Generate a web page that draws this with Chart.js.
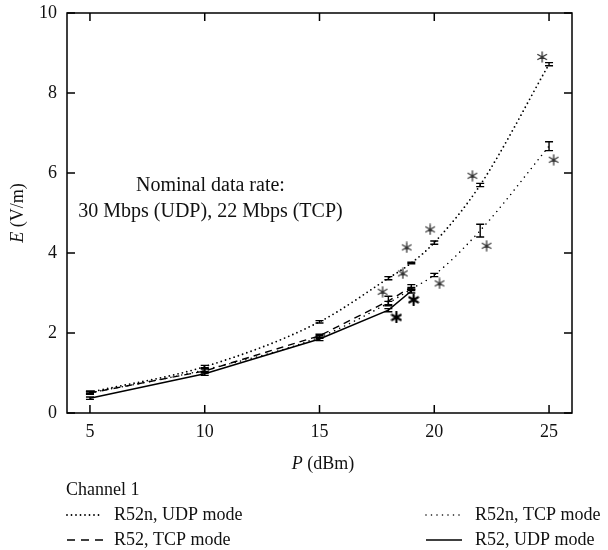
<!DOCTYPE html>
<html>
<head>
<meta charset="utf-8">
<script src="https://cdn.jsdelivr.net/npm/chart.js@4.4.1/dist/chart.umd.min.js"></script>
<style>
  html, body { margin: 0; padding: 0; background: #fff; }
</style>
</head>
<body>
<canvas id="myChart" width="608" height="550"></canvas>
<script>
// values
const power = [5, 10, 15, 18, 19, 20, 22, 25];
const powerR52 = [5, 10, 15, 18, 19];

const r52nUdp = [0.52, 1.16, 2.28, 3.37, 3.75, 4.26, 5.70, 8.72];
const r52nUdpErr = [0.03, 0.03, 0.03, 0.04, 0.02, 0.04, 0.04, 0.04];
const r52nTcp = [0.50, 1.08, 1.90, 2.75, 3.10, 3.45, 4.56, 6.67];
const r52nTcpErr = [0.03, 0.04, 0.03, 0.04, 0.04, 0.04, 0.16, 0.11];
const r52Tcp = [0.50, 1.05, 1.93, 2.80, 3.15];
const r52TcpErr = [0.03, 0.05, 0.04, 0.12, 0.06];
const r52Udp = [0.37, 0.98, 1.85, 2.57, 3.05];
const r52UdpErr = [0.03, 0.04, 0.04, 0.04, 0.05];

// asterisk markers
const starX = [24.7, 21.66, 19.82, 18.8, 18.63, 17.75, 25.2, 22.28, 20.23];
const starY = [8.9, 5.93, 4.59, 4.14, 3.49, 3.03, 6.33, 4.18, 3.24];
const boldStarX = [18.35, 19.1];
const boldStarY = [2.39, 2.83];

const xTicks = [5, 10, 15, 20, 25];
const yTicks = [0, 2, 4, 6, 8, 10];

const noteLines = ['Nominal data rate:', '30 Mbps (UDP), 22 Mbps (TCP)'];
const noteX = 10.25;
const noteY = [5.68, 5.02];

const FONT = '"Liberation Serif", "DejaVu Serif", serif';

function makeStar(size, width, color) {
  const c = document.createElement('canvas');
  c.width = size; c.height = size;
  const g = c.getContext('2d');
  const r = size / 2 - 1;
  g.strokeStyle = color;
  g.lineWidth = width;
  g.lineCap = 'round';
  g.beginPath();
  for (let k = 0; k < 3; k++) {
    const a = Math.PI / 2 + k * Math.PI / 3;
    g.moveTo(size / 2 + r * Math.cos(a), size / 2 + r * Math.sin(a));
    g.lineTo(size / 2 - r * Math.cos(a), size / 2 - r * Math.sin(a));
  }
  g.stroke();
  return c;
}
const starImg = makeStar(12, 1.3, '#333');
const boldStarImg = makeStar(12, 2.2, '#000');

function pts(xs, ys) {
  return xs.map((v, i) => ({x: v, y: ys[i]}));
}

function richText(ctx, parts, x, y) {
  // parts: [[text, italic]], centred on x
  let total = 0;
  parts.forEach(p => {
    ctx.font = (p[1] ? 'italic ' : '') + '18px ' + FONT;
    total += ctx.measureText(p[0]).width;
  });
  let cx = x - total / 2;
  ctx.textAlign = 'left';
  parts.forEach(p => {
    ctx.font = (p[1] ? 'italic ' : '') + '18px ' + FONT;
    ctx.fillText(p[0], cx, y);
    cx += ctx.measureText(p[0]).width;
  });
}

const decorations = {
  id: 'decorations',
  afterDatasetsDraw(chart) {
    const {ctx, chartArea: a} = chart;
    const x = chart.scales.x, y = chart.scales.y;
    ctx.save();
    ctx.setLineDash([]);
    ctx.strokeStyle = '#000';
    ctx.fillStyle = '#111';

    // error bars
    chart.data.datasets.forEach(ds => {
      if (!ds.errors) return;
      ds.data.forEach((p, j) => {
        const px = x.getPixelForValue(p.x);
        const t = y.getPixelForValue(p.y + ds.errors[j]);
        const b = y.getPixelForValue(p.y - ds.errors[j]);
        ctx.lineWidth = 1.4;
        ctx.beginPath();
        ctx.moveTo(px, t); ctx.lineTo(px, b);
        ctx.moveTo(px - 4, t); ctx.lineTo(px + 4, t);
        ctx.moveTo(px - 4, b); ctx.lineTo(px + 4, b);
        ctx.stroke();
      });
    });

    // frame and inward ticks
    ctx.lineWidth = 1.5;
    ctx.strokeRect(a.left, a.top, a.right - a.left, a.bottom - a.top);
    ctx.beginPath();
    xTicks.forEach(v => {
      const px = x.getPixelForValue(v);
      ctx.moveTo(px, a.bottom); ctx.lineTo(px, a.bottom - 8);
      ctx.moveTo(px, a.top); ctx.lineTo(px, a.top + 8);
    });
    yTicks.forEach(v => {
      const py = y.getPixelForValue(v);
      ctx.moveTo(a.left, py); ctx.lineTo(a.left + 8, py);
      ctx.moveTo(a.right, py); ctx.lineTo(a.right - 8, py);
    });
    ctx.stroke();

    // annotation
    ctx.font = '20px ' + FONT;
    ctx.textAlign = 'center';
    ctx.textBaseline = 'middle';
    noteLines.forEach((s, i) => {
      ctx.fillText(s, x.getPixelForValue(noteX), y.getPixelForValue(noteY[i]));
    });

    // axis titles
    richText(ctx, [['P', true], [' (dBm)', false]], 323, 464);
    ctx.save();
    ctx.translate(18, (a.top + a.bottom) / 2);
    ctx.rotate(-Math.PI / 2);
    richText(ctx, [['E', true], [' (V/m)', false]], 0, 0);
    ctx.restore();

    // legend
    ctx.font = '18px ' + FONT;
    ctx.textAlign = 'left';
    ctx.fillText('Channel 1', 66, 490);
    const cols = [66, 425];
    const rows = [515, 540];
    chart.data.datasets.forEach(ds => {
      if (ds.legendSlot === undefined) return;
      const cx = cols[ds.legendSlot % 2];
      const cy = rows[Math.floor(ds.legendSlot / 2)];
      ctx.save();
      ctx.lineWidth = ds.borderWidth;
      ctx.lineCap = ds.borderCapStyle || 'butt';
      ctx.setLineDash(ds.legendDash || ds.borderDash || []);
      ctx.beginPath();
      ctx.moveTo(cx + 1, cy); ctx.lineTo(cx + 37, cy);
      ctx.stroke();
      ctx.restore();
      ctx.font = '18px ' + FONT;
      ctx.fillText(ds.label, cx + (ds.legendSlot % 2 ? 50 : 48), cy);
    });
    ctx.restore();
  }
};

const ctx = document.getElementById('myChart').getContext('2d');
const myChart = new Chart(ctx, {
  type: 'line',
  data: {
    datasets: [
      {
        label: 'R52n, UDP mode', legendSlot: 0,
        data: pts(power, r52nUdp), errors: r52nUdpErr,
        borderColor: '#000', borderWidth: 1.8, borderDash: [0, 4.5], borderCapStyle: 'round',
        cubicInterpolationMode: 'monotone', pointRadius: 0, fill: false
      },
      {
        label: 'R52n, TCP mode', legendSlot: 1,
        data: pts(power, r52nTcp), errors: r52nTcpErr,
        borderColor: '#000', borderWidth: 1.6, borderDash: [0, 5.5], borderCapStyle: 'round',
        cubicInterpolationMode: 'monotone', pointRadius: 0, fill: false
      },
      {
        label: 'R52, TCP mode', legendSlot: 2,
        data: pts(powerR52, r52Tcp), errors: r52TcpErr,
        borderColor: '#000', borderWidth: 1.4, borderDash: [7, 5], legendDash: [8, 6],
        pointRadius: 0, fill: false
      },
      {
        label: 'R52, UDP mode', legendSlot: 3,
        data: pts(powerR52, r52Udp), errors: r52UdpErr,
        borderColor: '#000', borderWidth: 1.5,
        pointRadius: 0, fill: false
      },
      {
        type: 'scatter', label: 'stars',
        data: pts(starX, starY), showLine: false,
        pointStyle: starImg, pointRadius: 6
      },
      {
        type: 'scatter', label: 'bold stars',
        data: pts(boldStarX, boldStarY), showLine: false,
        pointStyle: boldStarImg, pointRadius: 6
      }
    ]
  },
  options: {
    responsive: false,
    animation: false,
    layout: {padding: {left: 0, right: 36, top: 13, bottom: 0}},
    plugins: {legend: {display: false}, tooltip: {enabled: false}},
    scales: {
      x: {
        type: 'linear', min: 4, max: 26,
        afterBuildTicks: s => { s.ticks = xTicks.map(v => ({value: v})); },
        afterFit: s => { s.height = 137; },
        grid: {display: false, drawTicks: false},
        border: {display: false},
        ticks: {padding: 8, color: '#111', font: {family: FONT, size: 18}}
      },
      y: {
        type: 'linear', min: 0, max: 10,
        afterBuildTicks: s => { s.ticks = yTicks.map(v => ({value: v})); },
        afterFit: s => { s.width = 67; },
        grid: {display: false, drawTicks: true, tickLength: 10},
        border: {display: false},
        ticks: {padding: 0, color: '#111', font: {family: FONT, size: 18}}
      }
    }
  },
  plugins: [decorations]
});
</script>
</body>
</html>
